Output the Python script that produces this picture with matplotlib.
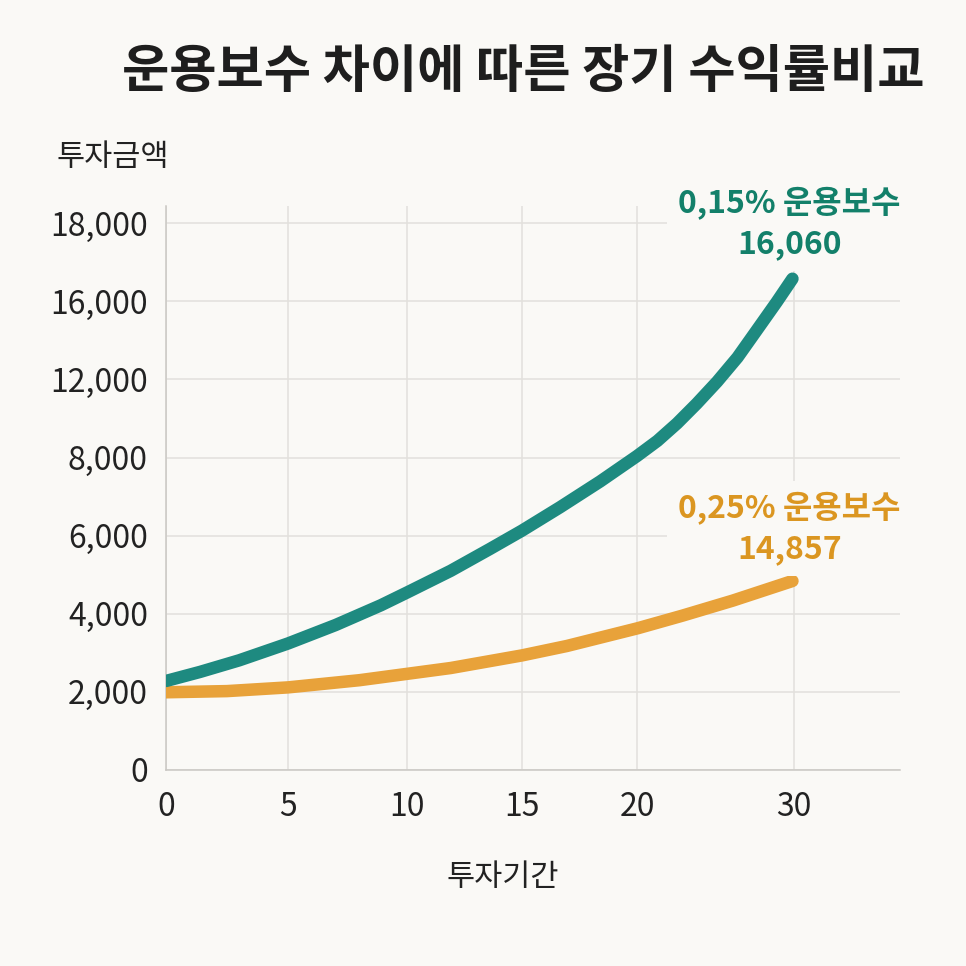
import numpy as np
import matplotlib
matplotlib.use("Agg")
import matplotlib.pyplot as plt

plt.rcParams["font.family"] = ["Noto Sans CJK KR", "DejaVu Sans"]

# ── Data ──────────────────────────────────────────────────────────────────
years_015 = [0, 1.4, 3.0, 5, 7.0, 8.9, 10, 11.9, 13.6, 15, 16.65, 18.4,
             20, 21.3, 22.55, 23.8, 25.1, 26.4, 27.6, 28.9, 29.9]
fee_015 = [2279, 2512, 2808, 3239, 3712, 4217, 4544, 5100, 5658, 6129, 6726, 7389,
           8078, 8854, 9747, 10756, 11882, 13126, 14488, 15968, 16578]

years_025 = [0, 2.5, 5, 8.0, 11.9, 15, 16.95, 20.05, 22.9, 26.1, 29.9]
fee_025 = [1990, 2020, 2115, 2299, 2611, 2934, 3175, 3630, 3953, 4337, 4839]

x_ticks = [0, 5, 10, 15, 20, 30]
y_ticks = [0, 2000, 4000, 6000, 8000, 12000, 16000, 18000]

label_015 = "0,15% 운용보수\n16,060"
label_025 = "0,25% 운용보수\n14,857"

# ── Style ─────────────────────────────────────────────────────────────────
BG = "#FAF9F6"
TEAL = "#1E8A80"
TEAL_TXT = "#13806A"
ORANGE = "#E8A23A"
ORANGE_TXT = "#DB9621"
GRID = "#E2E0DC"

# the axes are not linear: ticks are evenly spaced on y, uneven on x
Y_ANCH = y_ticks + [20000]
Y_IDX = np.arange(len(Y_ANCH), dtype=float)
X_ANCH = x_ticks + [40]
X_POS = np.array([166, 288, 407, 522, 637, 794, 951], dtype=float)


def y_fwd(v):
    return np.interp(v, Y_ANCH, Y_IDX)


def y_inv(v):
    return np.interp(v, Y_IDX, Y_ANCH)


def x_fwd(v):
    return np.interp(v, X_ANCH, X_POS)


def x_inv(v):
    return np.interp(v, X_POS, X_ANCH)


fig = plt.figure(figsize=(9.66, 9.66), dpi=100, facecolor=BG)
ax = fig.add_axes([166 / 966, 1 - 770 / 966, (900 - 166) / 966, (770 - 206) / 966])
ax.set_facecolor(BG)
ax.set_xscale("function", functions=(x_fwd, x_inv))
ax.set_yscale("function", functions=(y_fwd, y_inv))
ax.set_xlim(0, 36.75)
ax.set_ylim(0, 18440)

ax.set_xticks(x_ticks)
ax.set_xticklabels([str(v) for v in x_ticks])
ax.set_yticks(y_ticks)
ax.set_yticklabels([f"{v:,}" for v in y_ticks])
ax.tick_params(length=0, labelsize=23, colors="#222222")
ax.tick_params(axis="x", pad=15)
ax.tick_params(axis="y", pad=13)
ax.grid(True, color=GRID, linewidth=1.1)
ax.set_axisbelow(True)
for s in ["top", "right"]:
    ax.spines[s].set_visible(False)
for s in ["left", "bottom"]:
    ax.spines[s].set_color("#C9C7C3")
    ax.spines[s].set_linewidth(1.1)

ax.plot(years_025, fee_025, color=ORANGE, linewidth=9, solid_capstyle="round",
        solid_joinstyle="round", zorder=3)
ax.plot(years_015, fee_015, color=TEAL, linewidth=9, solid_capstyle="round",
        solid_joinstyle="round", zorder=4)

box = dict(boxstyle="square,pad=0.35", facecolor=BG, edgecolor="none")
ax.annotate(label_015, xy=(years_015[-1], fee_015[-1]), xytext=(-2, 40),
            textcoords="offset points", ha="center", va="center",
            fontsize=23, fontweight="bold", color=TEAL_TXT,
            linespacing=1.32, bbox=box, annotation_clip=False, zorder=5)
ax.annotate(label_025, xy=(years_025[-1], fee_025[-1]), xytext=(-2, 38),
            textcoords="offset points", ha="center", va="center",
            fontsize=23, fontweight="bold", color=ORANGE_TXT,
            linespacing=1.32, bbox=box, annotation_clip=False, zorder=5)

fig.text(523 / 966, 1 - 72 / 966, "운용보수 차이에 따른 장기 수익률비교",
         ha="center", va="center", fontsize=37, fontweight="bold", color="#1E1E1E")
fig.text(57 / 966, 1 - 157 / 966, "투자금액", ha="left", va="center",
         fontsize=22, color="#222222")
fig.text(503 / 966, 1 - 877 / 966, "투자기간", ha="center", va="center",
         fontsize=22, color="#222222")

fig.savefig("out.png", dpi=100, facecolor=BG)
